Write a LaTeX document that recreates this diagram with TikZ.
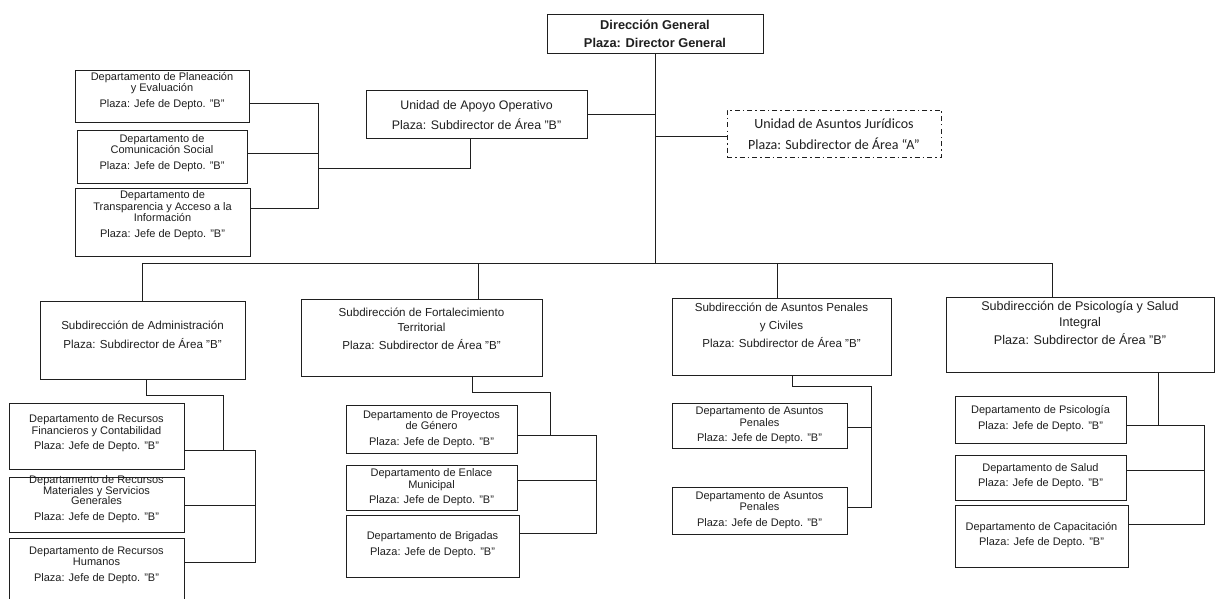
\documentclass[tikz,border=0pt]{standalone}
\usepackage{fontspec}
\setmainfont{Liberation Sans}
\newfontfamily\carlito{Carlito}
\definecolor{ink}{gray}{0.12}
\begin{document}
\begin{tikzpicture}[x=1pt,y=-1pt,
  bx/.style={draw=ink, line width=0.9pt, inner sep=0pt, rectangle},
  tx/.style={inner sep=0pt, align=center, text=ink},
  ln/.style={draw=ink, line width=0.9pt},
  dep/.style={tx, font=\fontsize{11}{11.5}\selectfont},
  sub/.style={tx, font=\fontsize{11.6}{15}\selectfont}]
\useasboundingbox (0,0) rectangle (1225,599);
\fill[white] (0,0) rectangle (1225,599);

% top
\node[bx, minimum width=216pt, minimum height=39pt] (dg) at (655,33.5) {};
\node[tx, font=\bfseries\fontsize{12.8}{18}\selectfont] (dgt) at (655,34) {Dirección General\\Plaza: Director General};

\node[bx, minimum width=221pt, minimum height=48pt] (ap) at (476.5,114) {};
\node[tx, font=\fontsize{12.4}{20}\selectfont] (apt) at (476.5,115) {Unidad de Apoyo Operativo\\Plaza: Subdirector de Área "B"};

\node[bx, dash pattern=on 5pt off 3pt on 1.5pt off 3pt, minimum width=214pt, minimum height=47pt] (ju) at (834,133.5) {};
\node[tx, font=\carlito\fontsize{14}{21}\selectfont] (jut) at (834,134.5) {Unidad de Asuntos Jurídicos\\Plaza: Subdirector de Área “A”};

% left departments
\node[bx, minimum width=174pt, minimum height=52pt] (d1) at (162,96) {};
\node[dep] (d1t) at (162,91) {Departamento de Planeación\\y Evaluación\\[4pt]Plaza: Jefe de Depto. "B"};
\node[bx, minimum width=170pt, minimum height=53pt] (d2) at (162,156.5) {};
\node[dep] (d2t) at (162,153) {Departamento de\\Comunicación Social\\[4pt]Plaza: Jefe de Depto. "B"};
\node[bx, minimum width=175pt, minimum height=68pt] (d3) at (162.5,222) {};
\node[dep] (d3t) at (162.5,215) {Departamento de\\Transparencia y Acceso a la\\Información\\[4pt]Plaza: Jefe de Depto. "B"};

% subdirecciones
\node[bx, minimum width=205pt, minimum height=78pt] (ad) at (142.5,340) {};
\node[sub, font=\fontsize{11.6}{19}\selectfont] (adt) at (142.5,335) {Subdirección de Administración\\Plaza: Subdirector de Área "B"};
\node[bx, minimum width=241pt, minimum height=77pt] (fo) at (421.5,337.5) {};
\node[sub] (fot) at (421.5,329) {Subdirección de Fortalecimiento\\Territorial\\[3pt]Plaza: Subdirector de Área "B"};
\node[bx, minimum width=219pt, minimum height=77pt] (pe) at (781.5,336.5) {};
\node[sub, font=\fontsize{11.6}{18}\selectfont] (pet) at (781.5,325) {Subdirección de Asuntos Penales\\y Civiles\\Plaza: Subdirector de Área "B"};
\node[bx, minimum width=268pt, minimum height=75pt] (ps) at (1080,334.5) {};
\node[sub, font=\fontsize{12.6}{16}\selectfont] (pst) at (1080,322.5) {Subdirección de Psicología y Salud\\Integral\\[2pt]Plaza: Subdirector de Área "B"};

% admin departments
\node[bx, minimum width=175pt, minimum height=66pt] (a1) at (96.5,436) {};
\node[dep] (a1t) at (96.5,433.5) {Departamento de Recursos\\Financieros y Contabilidad\\[4pt]Plaza: Jefe de Depto. "B"};
\node[bx, minimum width=175pt, minimum height=55pt] (a2) at (96.5,504.5) {};
\node[dep, font=\fontsize{11}{10.5}\selectfont] (a2t) at (96.5,499) {Departamento de Recursos\\Materiales y Servicios\\Generales\\[5pt]Plaza: Jefe de Depto. "B"};
\node[bx, minimum width=175pt, minimum height=61pt] (a3) at (96.5,568.5) {};
\node[dep] (a3t) at (96.5,565) {Departamento de Recursos\\Humanos\\[4pt]Plaza: Jefe de Depto. "B"};

% fortalecimiento departments
\node[bx, minimum width=171pt, minimum height=48pt] (f1) at (431.5,429) {};
\node[dep] (f1t) at (431.5,429) {Departamento de Proyectos\\de Género\\[4pt]Plaza: Jefe de Depto. "B"};
\node[bx, minimum width=171pt, minimum height=45pt] (f2) at (431.5,487.5) {};
\node[dep] (f2t) at (431.5,487.5) {Departamento de Enlace\\Municipal\\[4pt]Plaza: Jefe de Depto. "B"};
\node[bx, minimum width=173pt, minimum height=62pt] (f3) at (432.5,546) {};
\node[dep] (f3t) at (432.5,544.5) {Departamento de Brigadas\\[4pt]Plaza: Jefe de Depto. "B"};

% penales departments
\node[bx, minimum width=175pt, minimum height=45pt] (p1) at (759.5,425.5) {};
\node[dep] (p1t) at (759.5,425.5) {Departamento de Asuntos\\Penales\\[4pt]Plaza: Jefe de Depto. "B"};
\node[bx, minimum width=175pt, minimum height=47pt] (p2) at (759.5,510.5) {};
\node[dep] (p2t) at (759.5,510) {Departamento de Asuntos\\Penales\\[4pt]Plaza: Jefe de Depto. "B"};

% psicologia departments
\node[bx, minimum width=171pt, minimum height=47pt] (s1) at (1040.5,419.5) {};
\node[dep] (s1t) at (1040.5,418.5) {Departamento de Psicología\\[4pt]Plaza: Jefe de Depto. "B"};
\node[bx, minimum width=171pt, minimum height=45pt] (s2) at (1040.5,477.5) {};
\node[dep] (s2t) at (1040.5,476) {Departamento de Salud\\[4pt]Plaza: Jefe de Depto. "B"};
\node[bx, minimum width=173pt, minimum height=62pt] (s3) at (1041.5,536) {};
\node[dep] (s3t) at (1041.5,535) {Departamento de Capacitación\\[4pt]Plaza: Jefe de Depto. "B"};

% connectors: top
\coordinate (tr) at (655,263);
\draw[ln] (dg.south) -- (tr);
\draw[ln] (ap.east) -- (ap.east -| tr);
\coordinate (jj) at (655,136);
\draw[ln] (jj) -- (jj -| ju.west);
\coordinate (ap1) at (470,168);
\coordinate (lv1) at (318,103);
\coordinate (lv2) at (318,153);
\coordinate (lv3) at (318,208);
\draw[ln] (ap.south -| ap1) -- (ap1) -- (ap1 -| lv1);
\draw[ln] (lv1 -| d1.east) -- (lv1) -- (lv3) -- (lv3 -| d3.east);
\draw[ln] (lv2 -| d2.east) -- (lv2);

% bus
\coordinate (bl) at (142,263);
\coordinate (bf) at (478,263);
\coordinate (bp) at (777,263);
\coordinate (br) at (1052,263);
\draw[ln] (bl) -- (br);
\draw[ln] (bl) -- (bl |- ad.north);
\draw[ln] (bf) -- (bf |- fo.north);
\draw[ln] (bp) -- (bp |- pe.north);
\draw[ln] (br) -- (br |- ps.north);

% admin
\coordinate (ad1) at (146,395);
\coordinate (ad2) at (223,395);
\coordinate (ad3) at (223,450);
\draw[ln] (ad.south -| ad1) -- (ad1) -- (ad2) -- (ad3);
\coordinate (va1) at (255,450);
\coordinate (va2) at (255,505);
\coordinate (va3) at (255,562);
\draw[ln] (va1 -| a1.east) -- (va1) -- (va3) -- (va3 -| a3.east);
\draw[ln] (va2 -| a2.east) -- (va2);

% fortalecimiento
\coordinate (fo1) at (472,392);
\coordinate (fo2) at (550,392);
\coordinate (fo3) at (550,435);
\draw[ln] (fo.south -| fo1) -- (fo1) -- (fo2) -- (fo3);
\coordinate (vf1) at (596,435);
\coordinate (vf2) at (596,480);
\coordinate (vf3) at (596,533);
\draw[ln] (vf1 -| f1.east) -- (vf1) -- (vf3) -- (vf3 -| f3.east);
\draw[ln] (vf2 -| f2.east) -- (vf2);

% penales
\coordinate (pe1) at (792,386);
\coordinate (pe2) at (871,386);
\coordinate (vp1) at (871,427);
\coordinate (vp2) at (871,507);
\draw[ln] (pe.south -| pe1) -- (pe1) -- (pe2) -- (vp2) -- (vp2 -| p2.east);
\draw[ln] (vp1 -| p1.east) -- (vp1);

% psicologia
\coordinate (ps1) at (1158,425);
\coordinate (vs1) at (1204,425);
\coordinate (vs2) at (1204,470);
\coordinate (vs3) at (1204,524);
\draw[ln] (ps.south -| ps1) -- (ps1);
\draw[ln] (vs1 -| s1.east) -- (vs1) -- (vs3) -- (vs3 -| s3.east);
\draw[ln] (vs2 -| s2.east) -- (vs2);
\end{tikzpicture}
\end{document}
